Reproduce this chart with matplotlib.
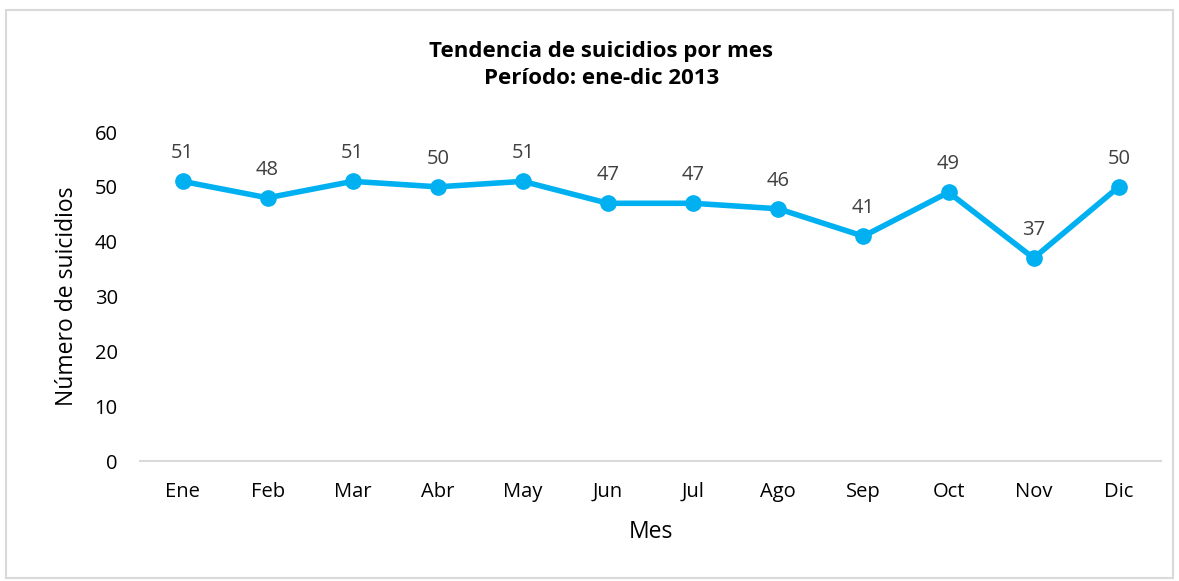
import matplotlib.pyplot as plt
from matplotlib.patches import Rectangle

meses = ['Ene', 'Feb', 'Mar', 'Abr', 'May', 'Jun', 'Jul', 'Ago', 'Sep', 'Oct', 'Nov', 'Dic']
suicidios = [51, 48, 51, 50, 51, 47, 47, 46, 41, 49, 37, 50]
yticks = [0, 10, 20, 30, 40, 50, 60]

plt.rcParams['font.family'] = ['Open Sans', 'DejaVu Sans']

fig = plt.figure(figsize=(11.79, 5.81), dpi=100)
ax = fig.add_axes([0.1187, 0.2065, 0.8663, 0.5663])

# borde gris alrededor del grafico
fig.patches.append(Rectangle((0.005, 0.005), 0.99, 0.978, transform=fig.transFigure,
                             fill=False, edgecolor='#d9d9d9', linewidth=1.5))

x = list(range(len(meses)))
ax.plot(x, suicidios, color='#00b0f0', linewidth=4, marker='o', markersize=11,
        solid_capstyle='round')

for xi, v in zip(x, suicidios):
    ax.annotate(str(v), (xi, v), xytext=(0, 13), textcoords='offset points',
                ha='center', va='bottom', fontsize=14.5, color='#404040')

ax.set_xlim(-0.5, len(meses) - 0.5)
ax.set_ylim(0, 60)
ax.set_yticks(yticks)
ax.set_xticks(x)
ax.set_xticklabels(meses)
ax.tick_params(axis='both', length=0, labelsize=14.5, colors='black')
ax.tick_params(axis='x', pad=15)
ax.tick_params(axis='y', pad=16)

for s in ['top', 'right', 'left']:
    ax.spines[s].set_visible(False)
ax.spines['bottom'].set_color('#d9d9d9')
ax.spines['bottom'].set_linewidth(1.5)

ax.set_xlabel('Mes', fontsize=16.5, labelpad=13)
ax.set_ylabel('Número de suicidios', fontsize=16.5, labelpad=11)

fig.text(0.51, 0.888, 'Tendencia de suicidios por mes\nPeríodo: ene-dic 2013',
         ha='center', va='center', fontsize=16, fontweight='bold', linespacing=1.35)

fig.savefig('out.png', dpi=100)
